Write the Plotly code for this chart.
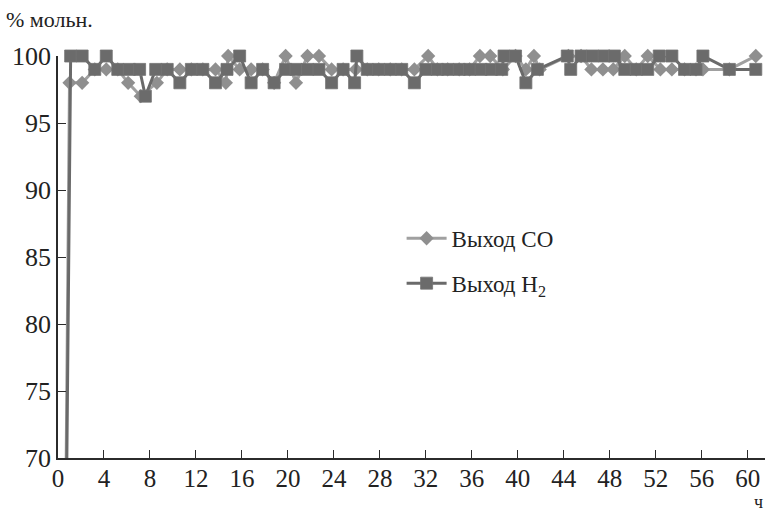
import plotly.graph_objects as go

# ---- data ----
t_h2 = [0, 1.1, 2.1, 3.2, 4.2, 5.2, 6.2, 7.1, 7.6, 8.5, 9.5, 10.6, 11.6, 12.6, 13.7,
        14.7, 15.8, 16.8, 17.8, 18.8, 19.8, 20.7, 21.7, 22.7, 23.8, 24.8, 25.8, 26.0,
        26.9, 27.9, 28.9, 29.9, 31.0, 32.0, 33.0, 33.9, 34.9, 35.8, 36.8, 37.7, 38.6,
        38.8, 39.8, 40.7, 41.7, 44.3, 44.6, 45.5, 46.5, 47.5, 48.4, 49.3, 50.3, 51.3,
        52.3, 53.4, 54.5, 55.5, 56.1, 58.4, 60.7]
h2 = [0, 100, 100, 99, 100, 99, 99, 99, 97, 99, 99, 98, 99, 99, 98,
      99, 100, 98, 99, 98, 99, 99, 99, 99, 98, 99, 98, 100,
      99, 99, 99, 99, 98, 99, 99, 99, 99, 99, 99, 99, 99,
      100, 100, 98, 99, 100, 99, 100, 100, 100, 100, 99, 99, 99,
      100, 100, 99, 99, 100, 99, 99]

t_co = [0, 1.0, 2.1, 3.2, 4.2, 5.2, 6.1, 7.2, 8.6, 9.5, 10.6, 11.6, 12.6, 13.7,
        14.6, 14.8, 15.8, 16.8, 17.8, 18.8, 19.8, 20.7, 21.7, 22.7, 23.8, 24.8, 25.9,
        26.9, 27.9, 28.9, 29.9, 31.0, 32.2, 33.0, 33.9, 34.9, 35.8, 36.7, 37.6, 38.7,
        39.8, 40.7, 41.4, 41.9, 44.4, 45.5, 46.4, 47.4, 48.3, 49.3, 50.3, 51.3, 52.4,
        53.4, 54.5, 55.5, 56.1, 58.4, 60.7]
co = [0, 98, 98, 99, 99, 99, 98, 97, 98, 99, 99, 99, 99, 99,
      98, 100, 99, 99, 99, 98, 100, 98, 100, 100, 99, 99, 99,
      99, 99, 99, 99, 99, 100, 99, 99, 99, 99, 100, 100, 99,
      100, 99, 100, 99, 100, 100, 99, 99, 99, 100, 99, 100, 99,
      99, 99, 99, 99, 99, 100]

x_ticks = list(range(0, 61, 4))
y_ticks = [70, 75, 80, 85, 90, 95, 100]

FONT = "Liberation Serif, Times New Roman, serif"
AX = "#2b2b2b"

fig = go.Figure()
fig.add_trace(go.Scatter(
    x=t_co, y=co, name="Выход CO", mode="lines+markers",
    line=dict(color="#a0a0a0", width=3),
    marker=dict(symbol="diamond", size=11, color="#8f8f8f"),
    cliponaxis=False, legendgroup="a"))
fig.add_trace(go.Scatter(
    x=t_h2, y=h2, name="Выход H<sub>2</sub>", mode="lines+markers",
    line=dict(color="#6a6a6a", width=3),
    marker=dict(symbol="square", size=12, color="#6b6b6b",
                line=dict(color="#747474", width=0.8)),
    cliponaxis=False, legendgroup="b"))

fig.update_layout(
    width=765, height=514,
    margin=dict(l=58, r=0, t=56, b=56),
    paper_bgcolor="white", plot_bgcolor="white",
    font=dict(family=FONT, size=26, color="#222"),
    showlegend=True,
    legend=dict(x=0.486, y=0.6, xanchor="left", yanchor="top",
                bgcolor="rgba(0,0,0,0)", font=dict(size=23, family=FONT),
                traceorder="grouped", tracegroupgap=12, itemwidth=40),
    xaxis=dict(range=[0, 61.5], tickvals=x_ticks, ticks="inside", ticklen=8,
               tickwidth=1.2, tickcolor=AX, showline=True, linecolor=AX,
               linewidth=1.5, showgrid=False, zeroline=False,
               ticklabelstandoff=-3,
               tickfont=dict(size=25, family=FONT)),
    yaxis=dict(range=[70, 100], tickvals=y_ticks, ticks="inside", ticklen=8,
               tickwidth=1.2, tickcolor=AX, showline=True, linecolor=AX,
               linewidth=1.5, showgrid=False, zeroline=False,
               tickfont=dict(size=26, family=FONT)),
    annotations=[
        dict(text="% мольн.", xref="paper", yref="paper", x=-0.077, y=1.09,
             xanchor="left", yanchor="middle", showarrow=False,
             font=dict(size=22, family=FONT)),
        dict(text="ч", xref="paper", yref="paper", x=0.991, y=-0.139,
             xanchor="center", yanchor="bottom", showarrow=False,
             font=dict(size=18, family=FONT)),
    ],
)

fig.write_html("out.html")
